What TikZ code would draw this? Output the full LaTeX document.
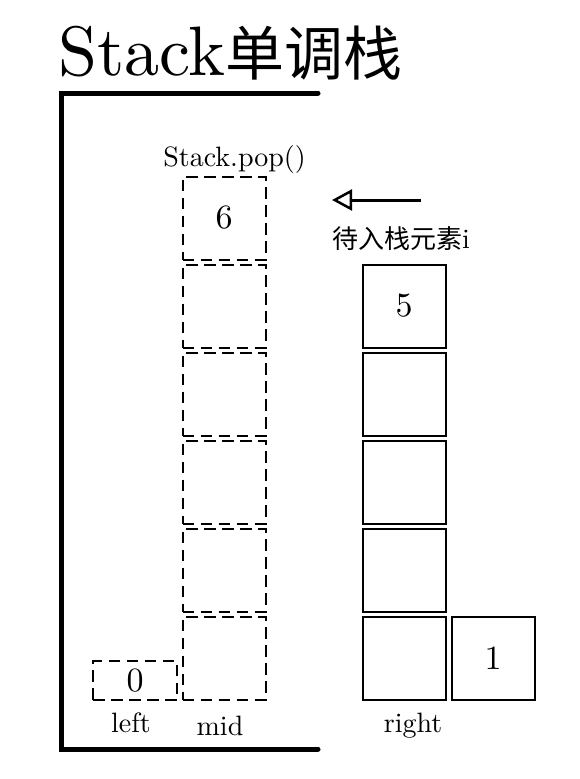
\documentclass[tikz,border=0pt]{standalone}
\usepackage{fontspec}
\setmainfont{lmroman10-regular.otf}
\newfontfamily\cjk{Noto Sans CJK SC}
\usetikzlibrary{arrows.meta}
\tikzset{
  cell/.style={draw, line width=2pt, minimum width=83pt, minimum height=83pt, inner sep=0pt, font=\fontsize{34}{36}\selectfont},
  dcell/.style={cell, dash pattern=on 11.5pt off 6.5pt},
  lbl/.style={font=\fontsize{28}{30}\selectfont, inner sep=0pt, anchor=base},
  bracket/.style={line width=5pt, line cap=round, line join=miter},
  pusharrow/.style={line width=3pt, -{Triangle[open, length=20pt, width=21pt, line width=2.5pt]}}
}
\begin{document}
\begin{tikzpicture}[x=1pt, y=-1pt]
\useasboundingbox (0,0) rectangle (580,779);
% title
\node[inner sep=0pt, anchor=base west] (title) at (58,75)
  {\fontsize{70}{72}\selectfont Stack{\cjk\fontsize{59}{62}\selectfont 单调栈}};
% bracket
\draw[bracket] (318,93) -- (61,93) -- (61,749) -- (318,749);
% mid column (dashed)
\node[lbl] (pop) at (234.5,166) {Stack.pop()};
\node[dcell] (m1) at (224,218) {6};
\node[dcell] (m2) at (224,306) {};
\node[dcell] (m3) at (224,394) {};
\node[dcell] (m4) at (224,482) {};
\node[dcell] (m5) at (224,570) {};
\node[dcell] (m6) at (224,658) {};
% left box
\node[dcell, minimum width=84pt, minimum height=39pt] (l1) at (135,680.5) {0};
% right column
\node[cell] (r1) at (404,306) {5};
\node[cell] (r2) at (404,394) {};
\node[cell] (r3) at (404,482) {};
\node[cell] (r4) at (404,570) {};
\node[cell] (r5) at (404,658) {};
\node[cell] (one) at (493,658) {1};
% labels
\node[lbl] (left) at (131,732) {left};
\node[lbl] (mid) at (220,735) {mid};
\node[lbl] (right) at (413,732) {right};
\node[lbl, anchor=base west] (wait) at (332,248) {{\cjk\fontsize{26}{28}\selectfont 待入栈元素}i};
% arrow
\coordinate (astart) at (421,200);
\coordinate (aend) at (332,200);
\draw[pusharrow] (astart) -- (aend);
\end{tikzpicture}
\end{document}
